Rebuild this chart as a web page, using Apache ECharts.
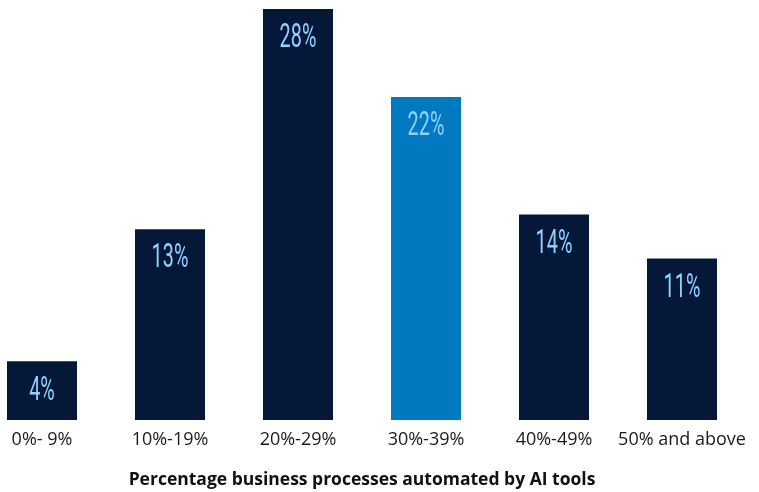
<!DOCTYPE html>
<html>
<head>
<meta charset="utf-8">
<style>
  html, body { margin: 0; padding: 0; background: #ffffff; }
  #chart { width: 759px; height: 492px; }
</style>
<script src="https://cdn.jsdelivr.net/npm/echarts@6/dist/echarts.min.js"></script>
</head>
<body>
<div id="chart"></div>
<script>
// Share of respondents by percentage of business processes automated with AI tools
const categories = ['0%- 9%', '10%-19%', '20%-29%', '30%-39%', '40%-49%', '50% and above'];
const shares = [4, 13, 28, 22, 14, 11];
const highlighted = '30%-39%';
const axisTitle = 'Percentage business processes automated by AI tools';

const NAVY = '#06183a';
const BLUE = '#0079c1';
const LABEL_BLUE = '#8fd1ff';

const chart = echarts.init(document.getElementById('chart'), null, { renderer: 'canvas' });

chart.setOption({
  animation: false,
  backgroundColor: '#ffffff',
  grid: { left: -22, right: 13, top: 9, bottom: 72, outerBoundsMode: 'none' },
  xAxis: {
    type: 'category',
    data: categories,
    axisLine: { show: false },
    axisTick: { show: false },
    axisLabel: {
      color: '#1a1a1a',
      fontFamily: 'Open Sans',
      fontSize: 18,
      margin: 11,
      interval: 0
    },
    name: axisTitle,
    nameLocation: 'middle',
    nameGap: 51,
    nameTextStyle: {
      color: '#111111',
      fontFamily: 'Open Sans',
      fontWeight: 'bold',
      fontSize: 17.5
    }
  },
  yAxis: {
    type: 'value',
    min: 0,
    max: 28,
    show: false,
    splitLine: { show: false }
  },
  series: [
    {
      type: 'bar',
      barWidth: 70,
      data: shares.map((v, i) => ({
        value: v,
        itemStyle: { color: categories[i] === highlighted ? BLUE : NAVY }
      }))
    },
    {
      // condensed value labels placed just inside the top of each bar
      type: 'custom',
      data: shares.map((v, i) => [i, v]),
      z: 10,
      renderItem: function (params, api) {
        const pt = api.coord([api.value(0), api.value(1)]);
        return {
          type: 'text',
          x: pt[0],
          y: pt[1] + 30,
          scaleX: 0.6,
          style: {
            x: 0,
            y: 0,
            text: api.value(1) + '%',
            fill: LABEL_BLUE,
            font: '400 33px Roboto',
            align: 'center',
            verticalAlign: 'middle'
          }
        };
      }
    }
  ]
});
</script>
</body>
</html>
